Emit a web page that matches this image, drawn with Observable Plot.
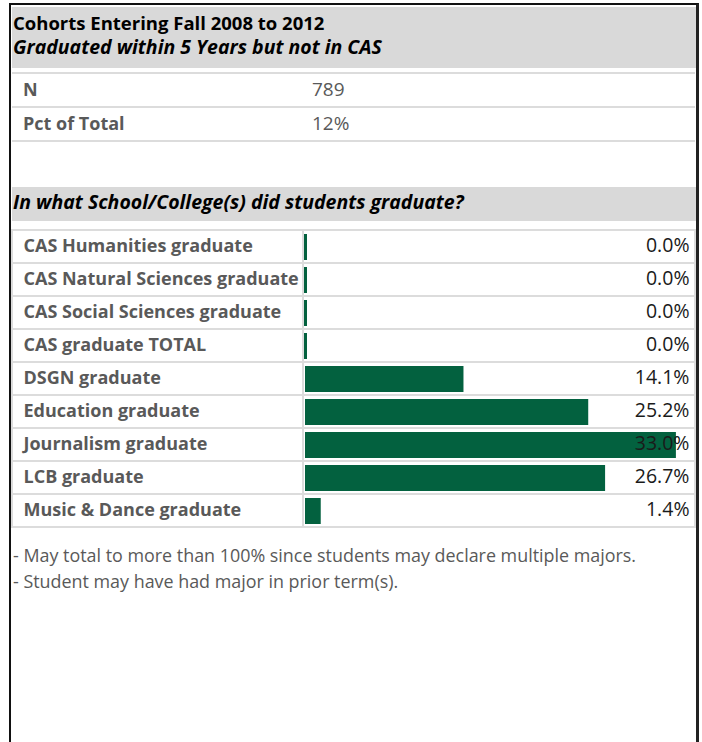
<!DOCTYPE html>
<html>
<head>
<meta charset="utf-8">
<script src="https://cdn.jsdelivr.net/npm/d3@7"></script>
<script src="https://cdn.jsdelivr.net/npm/@observablehq/plot@0.6"></script>
<style>
  html, body { margin: 0; padding: 0; background: #fff; overflow: hidden; width: 702px; height: 742px; }
  body { font-family: "Open Sans", Lato, sans-serif; position: relative; }
  .frame { position: absolute; left: 9px; top: 3px; width: 685px; height: 800px;
           border-left: 2px solid #111; border-top: 2px solid #111; border-right: 3px solid #222; }
  .band { position: absolute; left: 12px; width: 684px; background: #d9d9d9; }
  .t { position: absolute; white-space: nowrap; line-height: 1.2; }
  .hline { position: absolute; height: 2px; background: #dcdcdc; }
  #chart { position: absolute; left: 12px; top: 225px; }
</style>
</head>
<body>
<div class="frame"></div>
<div id="page"></div>
<div id="chart"></div>
<script>
// ---- data ----
const titleText = "Cohorts Entering Fall 2008 to 2012";
const subtitleText = "Graduated within 5 Years but not in CAS";
const summaryLabels = ["N", "Pct of Total"];
const summaryValues = ["789", "12%"];
const sectionText = "In what School/College(s) did students graduate?";
const categories = [
  "CAS Humanities graduate",
  "CAS Natural Sciences graduate",
  "CAS Social Sciences graduate",
  "CAS graduate TOTAL",
  "DSGN graduate",
  "Education graduate",
  "Journalism graduate",
  "LCB graduate",
  "Music & Dance graduate"
];
const values = [0.0, 0.0, 0.0, 0.0, 14.1, 25.2, 33.0, 26.7, 1.4];
const notes = [
  "- May total to more than 100% since students may declare multiple majors.",
  "- Student may have had major in prior term(s)."
];

// ---- layout helpers ----
const page = document.getElementById("page");
function addText(txt, x, baseline, size, opts = {}) {
  const d = document.createElement("div");
  d.className = "t";
  d.textContent = txt;
  d.style.left = x + "px";
  d.style.top = (baseline - 0.988 * size) + "px";
  d.style.fontSize = size + "px";
  d.style.fontWeight = opts.weight || "normal";
  d.style.fontStyle = opts.style || "normal";
  d.style.color = opts.color || "#000";
  page.appendChild(d);
}
function addBand(top, height) {
  const d = document.createElement("div");
  d.className = "band";
  d.style.top = top + "px";
  d.style.height = height + "px";
  page.appendChild(d);
}
function addLine(x1, x2, y) {
  const d = document.createElement("div");
  d.className = "hline";
  d.style.left = x1 + "px";
  d.style.width = (x2 - x1) + "px";
  d.style.top = (y - 1) + "px";
  page.appendChild(d);
}

// header
addBand(7, 61);
addText(titleText, 13, 30, 18.5, {weight: "700"});
addText(subtitleText, 13, 54.5, 19.5, {weight: "700", style: "italic"});

// summary rows
const rowLines = [73, 107, 141];
rowLines.forEach(y => { addLine(12, 304, y); addLine(304, 695, y); });
summaryLabels.forEach((lab, i) => {
  addText(lab, 23, 97 + i * 34, 18, {weight: "700", color: "#595959"});
  addText(summaryValues[i], 312, 97 + i * 34, 19, {color: "#595959"});
});

// section header
addBand(187, 34);
addText(sectionText, 13, 209.5, 19.5, {weight: "700", style: "italic"});

// notes
notes.forEach((n, i) => addText(n, 13, 563 + i * 26, 17.9, {color: "#595959"}));

// ---- chart ----
const rows = categories.map((name, i) => ({name, value: values[i]}));
const green = "#03613f";
const xMax = 34.7;
const chart = Plot.plot({
  width: 684,
  height: 307,
  marginLeft: 293,
  marginRight: 1,
  marginTop: 1,
  marginBottom: 2,
  x: {domain: [0, xMax], axis: null},
  y: {domain: categories, axis: null, padding: 0},
  style: {fontFamily: "'Open Sans', Lato, sans-serif", background: "transparent", overflow: "visible"},
  marks: [
    Plot.barX(rows, {y: "name", x1: 0, x2: 0, insetLeft: -293, insetRight: 2, fill: "white", stroke: "#dcdcdc", strokeWidth: 2}),
    Plot.barX(rows, {y: "name", x1: 0, x2: xMax, insetLeft: -2, fill: "white", stroke: "#dcdcdc", strokeWidth: 2}),
    Plot.barX(rows, {y: "name", x: "value", fill: green, insetTop: 4, insetBottom: 3}),
    Plot.tickX(rows.filter(d => d.value === 0), {x: 0, y: "name", stroke: green, strokeWidth: 3, insetTop: 4, insetBottom: 3}),
    Plot.text(rows, {y: "name", text: "name", frameAnchor: "left", textAnchor: "start", dx: -282, dy: -1, fontWeight: 700, fontSize: 18, fill: "#595959"}),
    Plot.text(rows, {y: "name", text: d => d.value.toFixed(1) + "%", frameAnchor: "right", textAnchor: "end", dx: -6, dy: -1, fontSize: 19.5, fill: "#1a1a1a"})
  ]
});
document.getElementById("chart").appendChild(chart);
</script>
</body>
</html>
